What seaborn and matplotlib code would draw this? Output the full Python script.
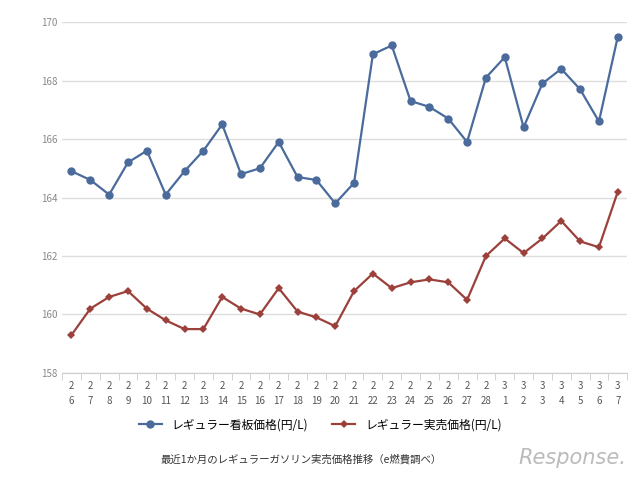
import matplotlib
matplotlib.use('Agg')
import matplotlib.pyplot as plt
import seaborn as sns
import pandas as pd
import numpy as np

plt.rcParams['font.family'] = 'Noto Sans CJK JP'

# 日付 (月, 日)
months = [2]*23 + [3]*7
days = list(range(6, 29)) + list(range(1, 8))
kanban = [164.9, 164.6, 164.1, 165.2, 165.6, 164.1, 164.9, 165.6, 166.5, 164.8,
          165.0, 165.9, 164.7, 164.6, 163.8, 164.5, 168.9, 169.2, 167.3, 167.1,
          166.7, 165.9, 168.1, 168.8, 166.4, 167.9, 168.4, 167.7, 166.6, 169.5]
jitsubai = [159.3, 160.2, 160.6, 160.8, 160.2, 159.8, 159.5, 159.5, 160.6, 160.2,
            160.0, 160.9, 160.1, 159.9, 159.6, 160.8, 161.4, 160.9, 161.1, 161.2,
            161.1, 160.5, 162.0, 162.6, 162.1, 162.6, 163.2, 162.5, 162.3, 164.2]
labels = [f'{m}\n{d}' for m, d in zip(months, days)]

df = pd.DataFrame({'x': np.arange(len(labels)), 'kanban': kanban, 'jitsubai': jitsubai})

fig = plt.figure(figsize=(6.4, 4.8), dpi=100)
ax = fig.add_axes([0.097, 0.223, 0.883, 0.731])

sns.lineplot(data=df, x='x', y='kanban', ax=ax, color='#4a6b9b', marker='o', markersize=6,
             markeredgewidth=0, linewidth=1.6, label='レギュラー看板価格(円/L)')
sns.lineplot(data=df, x='x', y='jitsubai', ax=ax, color='#9b403b', marker='D', markersize=4,
             markeredgewidth=0, linewidth=1.6, label='レギュラー実売価格(円/L)')

ax.set_ylim(158, 170)
ax.set_yticks([158, 160, 162, 164, 166, 168, 170])
ax.set_xlim(-0.5, len(labels) - 0.5)
ax.set_xticks(df['x'])
ax.set_xticklabels(labels, fontsize=7, color='#555555', linespacing=1.6)
ax.set_xticks(np.arange(-0.5, len(labels), 1), minor=True)
ax.tick_params(axis='x', which='major', length=0, pad=6)
ax.tick_params(axis='x', which='minor', length=5, color='#cccccc')
ax.tick_params(axis='y', length=0, labelsize=7, labelcolor='#888888')
ax.grid(axis='y', color='#dddddd', linewidth=1)
for s in ['top', 'right', 'left']:
    ax.spines[s].set_visible(False)
ax.spines['bottom'].set_color('#cccccc')
ax.set_xlabel('')
ax.set_ylabel('')
handles, labs = ax.get_legend_handles_labels()
ax.get_legend().remove()
fig.legend(handles, labs, loc='center', bbox_to_anchor=(0.5, 0.115), ncol=2, frameon=False,
           fontsize=8.5, handlelength=2, columnspacing=2)

fig.text(0.47, 0.042, '最近1か月のレギュラーガソリン実売価格推移（e燃費調べ）', ha='center',
         va='center', fontsize=7.5, color='#333333')
fig.text(0.895, 0.045, 'Response.', ha='center', va='center', fontsize=15, color='#bbbbbb',
         style='italic', family='DejaVu Sans')

fig.savefig('out.png', dpi=100)
